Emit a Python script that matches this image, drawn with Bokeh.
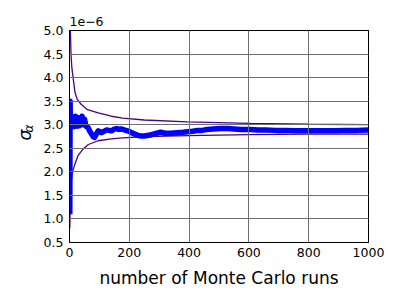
import numpy as np
from bokeh.plotting import figure
from bokeh.layouts import row
from bokeh.models import (LinearAxis, FixedTicker, PrintfTickFormatter,
                          CustomJSTickFormatter, Range1d, Title)
from bokeh.core.properties import value
from bokeh.embed import file_html
from bokeh.resources import INLINE

# values of sigma_alpha in units of 1e-6
runs = [1, 2, 3, 5, 7, 9, 11, 14, 17, 20, 23, 27, 30, 34, 38, 42, 46, 50, 55, 60,
        63, 68, 74, 79, 83, 88, 96, 102, 107, 115, 124, 132, 140, 148, 157, 165,
        172, 183, 194, 205, 215, 227, 238, 250, 260, 270, 280, 292, 305, 320,
        338, 360, 380, 394, 412, 430, 445, 460, 480, 505, 530, 550, 575, 605,
        630, 655, 690, 722, 755, 788, 820, 855, 890, 922, 960, 1000]
sigma = [1.1, 3.5, 2.95, 3.15, 2.95, 3.18, 2.98, 3.1, 2.96, 3.18, 3.0, 2.97, 3.15,
         2.98, 3.05, 3.18, 3.0, 3.12, 2.97, 2.95,
         2.93, 2.86, 2.8, 2.75, 2.73, 2.78, 2.87, 2.85, 2.83, 2.86, 2.89, 2.88,
         2.87, 2.9, 2.92, 2.9,
         2.91, 2.89, 2.87, 2.84, 2.81, 2.78, 2.76, 2.76, 2.77, 2.78, 2.8, 2.82,
         2.84, 2.82, 2.82, 2.83, 2.84, 2.85, 2.86, 2.88, 2.88, 2.9, 2.91, 2.92,
         2.92, 2.91, 2.9, 2.9, 2.89, 2.89, 2.88, 2.88, 2.87, 2.87, 2.87, 2.87,
         2.87, 2.88, 2.88, 2.89]

upper_runs = [2, 3, 5, 8, 12, 18, 25, 38, 60, 96, 140, 178, 250, 394, 500, 605, 800, 1000]
upper = [5.6, 5.0, 4.5, 4.2, 4.0, 3.7, 3.55, 3.44, 3.32, 3.25, 3.18, 3.14, 3.1,
         3.06, 3.045, 3.03, 3.01, 3.0]
lower_runs = [1, 2, 3, 6, 10, 20, 29, 45, 63, 96, 140, 178, 260, 394, 605, 800, 1000]
lower = [0.8, 1.2, 1.45, 1.8, 2.0, 2.2, 2.35, 2.48, 2.58, 2.66, 2.7, 2.72, 2.75,
         2.77, 2.79, 2.8, 2.8]

x_ticks = [0, 200, 400, 600, 800, 1000]
y_ticks = [0.5, 1.0, 1.5, 2.0, 2.5, 3.0, 3.5, 4.0, 4.5, 5.0]

FONT = "DejaVu Sans"
H = 292
LW = 40  # width of the strip holding the y-axis label

p = figure(width=392 - LW, height=H, output_backend="svg", toolbar_location=None,
           x_range=Range1d(0, 1000), y_range=Range1d(0.5, 5.0),
           min_border_left=68 - LW, min_border_right=24, min_border_top=30,
           min_border_bottom=50)
p.background_fill_color = "white"
p.border_fill_color = "white"
p.outline_line_color = "black"
p.outline_line_width = 1

p.line(upper_runs, upper, line_color="#4B0082", line_width=1.3)
p.line(lower_runs, lower, line_color="#4B0082", line_width=1.3)
p.line(runs, sigma, line_color="#0000FF", line_width=5.5, line_join="round")

for g in (p.xgrid[0], p.ygrid[0]):
    g.grid_line_color = "#6e6e6e"
    g.grid_line_width = 1
    g.level = "overlay"
p.xgrid[0].ticker = FixedTicker(ticks=x_ticks)
p.ygrid[0].ticker = FixedTicker(ticks=y_ticks)

def style(ax, ticks, show):
    ax.ticker = FixedTicker(ticks=ticks)
    ax.major_tick_in = 4
    ax.major_tick_out = 0
    ax.minor_tick_line_color = None
    ax.major_tick_line_color = "black"
    ax.axis_line_color = "black"
    ax.major_label_text_font = FONT
    ax.major_label_text_font_size = "12.5px"
    ax.major_label_text_color = "black"
    if not show:
        ax.formatter = CustomJSTickFormatter(code="return ''")

xa = p.xaxis[0]
style(xa, x_ticks, True)
xa.major_label_standoff = 5
xa.axis_label = "number of Monte Carlo runs"
xa.axis_label_text_font = FONT
xa.axis_label_text_font_size = "17px"
xa.axis_label_text_font_style = "normal"
xa.axis_label_text_color = "black"
xa.axis_label_standoff = 8

ya = p.yaxis[0]
style(ya, y_ticks, True)
ya.formatter = PrintfTickFormatter(format="%.1f")
ya.major_label_standoff = 6

ra = LinearAxis()
style(ra, y_ticks, False)
p.add_layout(ra, "right")
ta = LinearAxis()
style(ta, x_ticks, False)
p.add_layout(ta, "above")

# offset-exponent text above the frame
p.add_layout(Title(text="1e\u22126", text_font=FONT, text_font_size="12.5px",
                   text_font_style="normal", text_color="black", align="left",
                   standoff=10, offset=0), "above")

# strip at the left holding the y-axis label sigma_alpha
lab = figure(width=LW, height=H, output_backend="svg", toolbar_location=None,
             x_range=Range1d(0, LW), y_range=Range1d(H, 0),
             x_axis_type=None, y_axis_type=None,
             min_border_left=0, min_border_right=0, min_border_top=0,
             min_border_bottom=0)
lab.outline_line_color = None
lab.grid.visible = False
lab.text(x=[24.5], y=[144], text=["\u03c3"], text_font=value(FONT),
         text_font_style="italic", text_font_size="17px", text_color="black",
         angle=np.pi / 2, text_align="center", text_baseline="middle")
lab.text(x=[28.5], y=[135], text=["\u03b1"], text_font=value(FONT),
         text_font_style="italic", text_font_size="12px", text_color="black",
         angle=np.pi / 2, text_align="center", text_baseline="middle")

layout = row(lab, p)
open("out.html", "w").write(file_html(layout, INLINE))
